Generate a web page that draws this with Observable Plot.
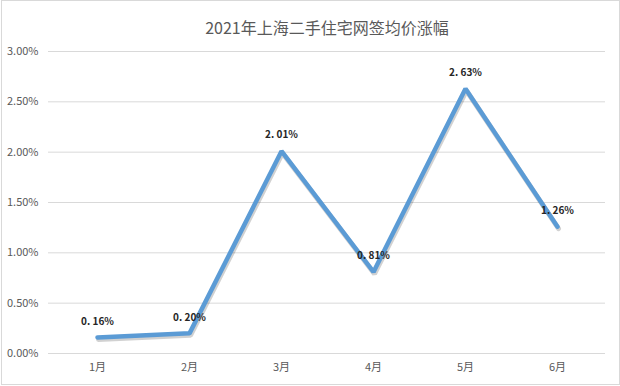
<!DOCTYPE html>
<html>
<head>
<meta charset="utf-8">
<script src="https://cdn.jsdelivr.net/npm/d3@7"></script>
<script src="https://cdn.jsdelivr.net/npm/@observablehq/plot@0.6"></script>
<style>
  html, body { margin: 0; padding: 0; background: #fff; }
  #wrap { position: relative; width: 620px; height: 386px; }
  #border { position: absolute; left: 1px; top: 0; width: 617px; height: 383px; border: 1px solid #d9d9d9; pointer-events: none; }
  svg { font-family: "Noto Sans CJK SC", "Noto Sans", sans-serif; }
</style>
</head>
<body>
<div id="wrap"><div id="border"></div></div>
<script>
const title = "2021年上海二手住宅网签均价涨幅";
const months = ["1月", "2月", "3月", "4月", "5月", "6月"];
const values = [0.16, 0.20, 2.01, 0.81, 2.63, 1.26];
const yTicks = [0, 0.5, 1, 1.5, 2, 2.5, 3];

const data = months.map((m, i) => ({month: m, value: values[i], label: values[i].toFixed(2).replace(".", ". ") + "%"}));

const chart = Plot.plot({
  width: 620,
  height: 386,
  marginTop: 51,
  marginBottom: 33,
  marginLeft: 48,
  marginRight: 15,
  style: {fontFamily: "\"Noto Sans CJK SC\", sans-serif", fontSize: "11px", color: "#595959", background: "transparent"},
  x: {type: "point", domain: months, padding: 0.5, label: null},
  y: {domain: [0, 3], label: null},
  marks: [
    Plot.ruleY(yTicks, {stroke: "#d9d9d9", strokeWidth: 1}),
    Plot.axisY({ticks: yTicks, tickSize: 0, tickPadding: 10, tickFormat: d => d.toFixed(2) + "%", fill: "#595959", fontSize: 11, label: null}),
    Plot.axisX({tickSize: 0, tickPadding: 10, fill: "#595959", fontSize: 11, label: null}),
    Plot.line(data, {x: "month", y: "value", stroke: "#000", strokeOpacity: 0.18, strokeWidth: 5, dx: 1, dy: 2, strokeLinejoin: "miter", strokeLinecap: "round"}),
    Plot.line(data, {x: "month", y: "value", stroke: "#5b9bd5", strokeWidth: 4.5, strokeLinejoin: "miter", strokeLinecap: "round"}),
    Plot.text(data, {x: "month", y: "value", text: "label", dy: -16, fontWeight: "bold", fontSize: 10, letterSpacing: -0.3, fill: "#262626"}),
    Plot.text([title], {frameAnchor: "top", dy: -29, fontSize: 16, fill: "#595959"})
  ]
});
document.getElementById("wrap").prepend(chart);
</script>
</body>
</html>
